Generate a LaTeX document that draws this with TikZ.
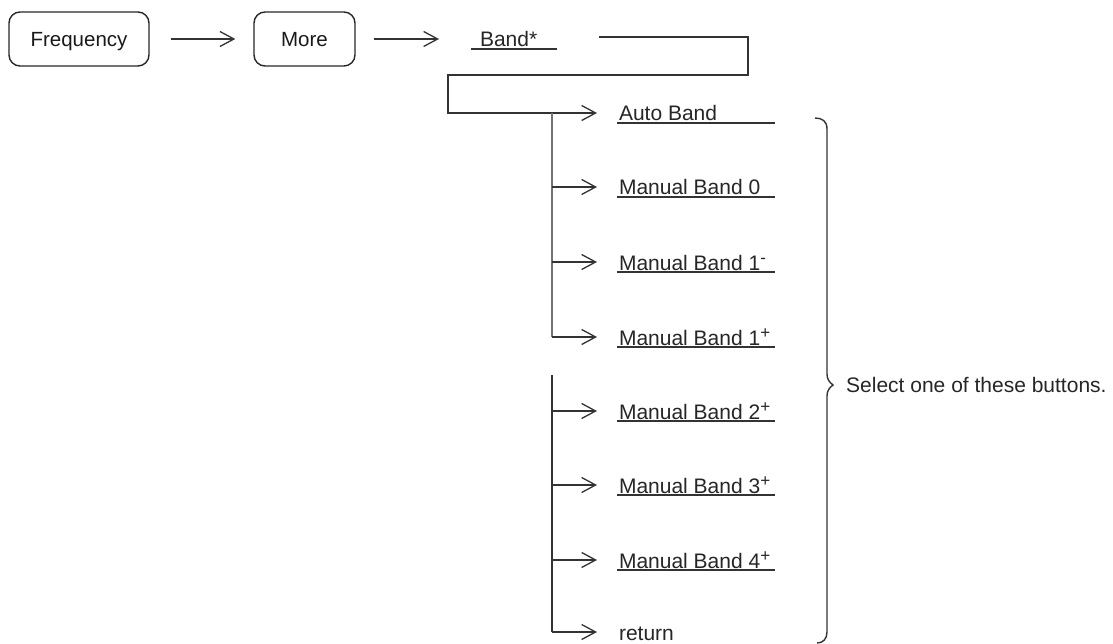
\documentclass[tikz,border=0pt]{standalone}
\usepackage{fontspec}
\setmainfont{Liberation Sans}
\usetikzlibrary{arrows.meta}
\newcommand{\supp}[1]{\raisebox{6.5pt}{\fontsize{17}{17}\selectfont #1}}
\begin{document}
\begin{tikzpicture}[x=1pt,y=-1pt,
  ln/.style={draw=black!80, line width=1.3pt},
  arr/.style={ln, -{Straight Barb[length=14pt,width=15pt]}},
  btn/.style={draw=black!85, line width=1.4pt, rounded corners=11pt, minimum height=54pt,
    inner sep=0pt, text height=15pt, text depth=0pt, font=\fontsize{20.5}{24}\selectfont, text=black!90},
  item/.style={inner sep=0pt, outer sep=0pt, anchor=base west, text height=16pt, text depth=0pt,
    font=\fontsize{21}{25}\selectfont, text=black!85},
  ul/.style={draw=black!80, line width=1.3pt}]
\useasboundingbox (0,0) rectangle (1113,644);

% top row
\node[btn, minimum width=140pt] (freq) at (79,39) {Frequency};
\node[btn, minimum width=101pt] (more) at (304.5,39) {More};
\node[item] (band) at (480,47) {Band*};
\draw[ul] (471,49) -- (557,49);
\draw[arr, shorten <=21pt, shorten >=18pt] (freq.east) -- (more.west);
\draw[arr, shorten <=18pt, shorten >=41pt] (more.east) -- (more.east -| band.west);

% menu items
\node[item] (auto) at (619,121) {Auto Band};
\node[item] (m0) at (619,195) {Manual Band 0};
\node[item] (m1m) at (619,270) {Manual Band 1\supp{-}};
\node[item] (m1p) at (619,345) {Manual Band 1\supp{+}};
\node[item] (m2p) at (619,419) {Manual Band 2\supp{+}};
\node[item] (m3p) at (619,493) {Manual Band 3\supp{+}};
\node[item] (m4p) at (619,568) {Manual Band 4\supp{+}};
\node[item] (ret) at (619,640) {return};

\foreach \y in {123,197,272,347,421,495,570}
  \draw[ul] (617,\y) -- (775,\y);

% routing from Band*
\coordinate (c1) at (599,37);
\coordinate (c2) at (748,75);
\coordinate (c3) at (448,112);
\draw[arr, shorten >=22pt] (c1) -| (c2) -| (c3) -- (c3 |- auto.west) -- (auto.west);

% vertical bus
\coordinate (bus) at (552,0);
\coordinate (bt1) at (552,113);
\coordinate (bb1) at (552,337);
\coordinate (bt2) at (552,375);
\coordinate (bb2) at (552,632);
\draw[ln, draw=black!55, line width=1.6pt] (bt1) -- (bb1);
\draw[ln] (bt2) -- (bb2);
\foreach \n in {m0,m1m,m1p,m2p,m3p,m4p,ret}
  \draw[arr, shorten >=22pt] (bus |- \n.west) -- (\n.west);

% brace
\draw[ln, line width=1.4pt] (815,118) .. controls (822,118) and (827,121) .. (827,129)
  -- (827,374) .. controls (827,379) and (829,382) .. (833,385)
  .. controls (829,388) and (827,391) .. (827,396)
  -- (827,632) .. controls (827,639) and (823,643) .. (817,643);
\node[anchor=west, inner sep=0pt, font=\fontsize{21}{25}\selectfont, text=black!85] (sel) at (846,385) {Select one of these buttons.};
\end{tikzpicture}
\end{document}
